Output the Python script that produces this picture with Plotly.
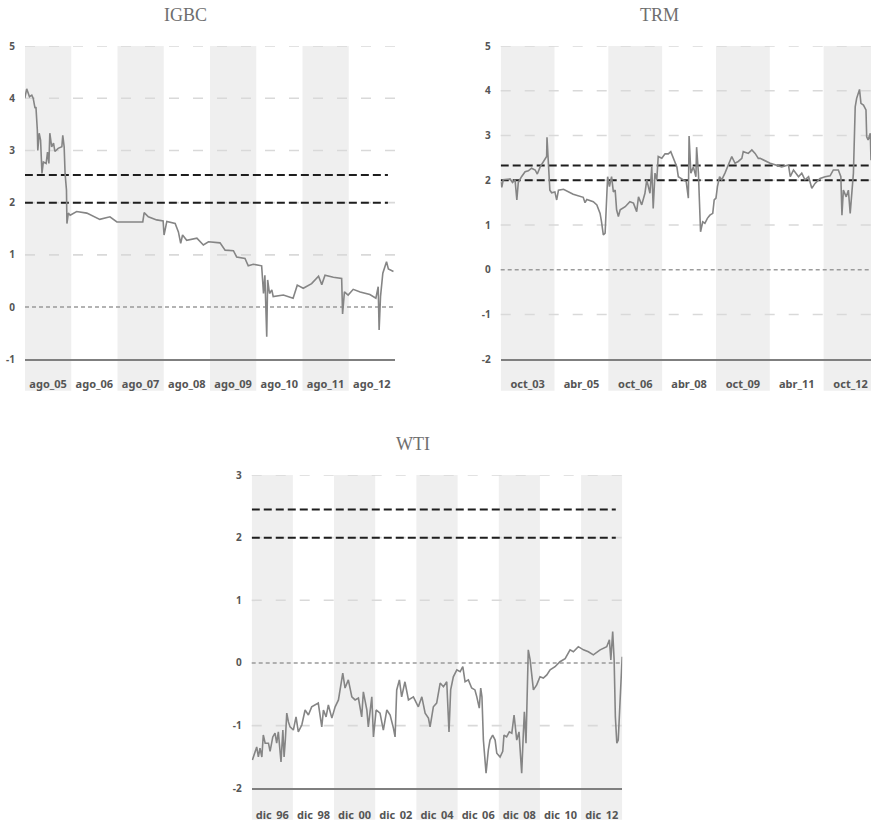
import plotly.graph_objects as go

# ---------------- DATA ----------------
# IGBC (time in decimal years, value)
igbc_t = [2005.58, 2005.62, 2005.68, 2005.73, 2005.76, 2005.80, 2005.82, 2005.85, 2005.86, 2005.89,
          2005.92, 2005.95, 2005.98, 2006.04, 2006.07, 2006.10, 2006.12, 2006.16, 2006.20, 2006.23,
          2006.30, 2006.38, 2006.40, 2006.43, 2006.45, 2006.47, 2006.48, 2006.49, 2006.52, 2006.56,
          2006.70, 2006.92, 2007.20, 2007.42, 2007.57, 2007.93, 2008.13, 2008.16, 2008.25, 2008.43,
          2008.57, 2008.59, 2008.65, 2008.83, 2008.90, 2008.95, 2008.99, 2009.08, 2009.30, 2009.44,
          2009.55, 2009.80, 2009.91, 2010.09, 2010.16, 2010.34, 2010.41, 2010.52, 2010.70, 2010.74,
          2010.77, 2010.81, 2010.83, 2010.87, 2010.92, 2010.95, 2011.17, 2011.38, 2011.47, 2011.60,
          2011.78, 2011.93, 2012.00, 2012.07, 2012.25, 2012.43, 2012.45, 2012.49, 2012.57, 2012.68,
          2012.83, 2013.04, 2013.17, 2013.22, 2013.24, 2013.27, 2013.32, 2013.40, 2013.44, 2013.55]
igbc_v = [4.00, 4.18, 4.03, 4.06, 4.00, 3.81, 3.83, 3.39, 3.00, 3.33,
          3.20, 2.56, 2.78, 2.75, 2.97, 2.75, 3.33, 3.07, 3.14, 2.98,
          3.04, 3.07, 3.29, 3.07, 2.56, 2.40, 2.24, 1.60, 1.80, 1.76,
          1.83, 1.80, 1.68, 1.73, 1.63, 1.63, 1.63, 1.81, 1.73, 1.67,
          1.65, 1.38, 1.64, 1.60, 1.44, 1.22, 1.38, 1.28, 1.32, 1.19,
          1.25, 1.23, 1.09, 1.08, 0.96, 0.93, 0.79, 0.82, 0.79, 0.26,
          0.61, -0.57, 0.52, 0.26, 0.33, 0.20, 0.23, 0.17, 0.42, 0.36,
          0.45, 0.59, 0.43, 0.61, 0.57, 0.55, -0.13, 0.29, 0.23, 0.34,
          0.29, 0.24, 0.17, 0.39, -0.44, 0.20, 0.65, 0.87, 0.73, 0.68]
igbc_thresholds = [2.53, 2.0]
igbc_thr_t = [2005.58, 2013.43]
igbc_labels = ["ago_05", "ago_06", "ago_07", "ago_08", "ago_09", "ago_10", "ago_11", "ago_12"]
igbc_start = 2005 + 7 / 12      # agosto 2005
igbc_step = 1.0                 # years per category
igbc_yticks = [-1, 0, 1, 2, 3, 4, 5]

# TRM
trm_t = [2003.75, 2003.78, 2003.82, 2004.01, 2004.08, 2004.15, 2004.20, 2004.24, 2004.33, 2004.43,
         2004.52, 2004.61, 2004.71, 2004.77, 2004.85, 2004.94, 2004.99, 2005.03, 2005.04, 2005.08,
         2005.12, 2005.17, 2005.26, 2005.31, 2005.36, 2005.50, 2005.68, 2005.77, 2006.05, 2006.10,
         2006.15, 2006.33, 2006.43, 2006.52, 2006.56, 2006.61, 2006.66, 2006.70, 2006.73, 2006.78,
         2006.84, 2006.89, 2006.94, 2006.98, 2007.03, 2007.08, 2007.22, 2007.35, 2007.45, 2007.54,
         2007.59, 2007.68, 2007.77, 2007.82, 2007.91, 2007.96, 2008.00, 2008.05, 2008.10, 2008.14,
         2008.24, 2008.33, 2008.42, 2008.49, 2008.56, 2008.66, 2008.70, 2008.84, 2008.92, 2008.98,
         2009.00, 2009.05, 2009.12, 2009.19, 2009.21, 2009.26, 2009.29, 2009.32, 2009.38, 2009.44,
         2009.51, 2009.58, 2009.66, 2009.70, 2009.75, 2009.79, 2009.85, 2009.91, 2010.00, 2010.10,
         2010.19, 2010.28, 2010.37, 2010.47, 2010.51, 2010.65, 2010.75, 2010.84, 2010.93, 2010.98,
         2011.26, 2011.58, 2011.77, 2011.82, 2011.91, 2012.05, 2012.14, 2012.23, 2012.33, 2012.42,
         2012.51, 2012.65, 2012.79, 2012.93, 2013.02, 2013.16, 2013.23, 2013.26, 2013.30, 2013.38,
         2013.44, 2013.49, 2013.54, 2013.58, 2013.63, 2013.67, 2013.75, 2013.79, 2013.86, 2013.93,
         2013.95, 2013.99, 2014.05, 2014.07]
trm_v = [1.97, 1.84, 2.01, 2.03, 1.95, 2.01, 1.56, 1.95, 2.08, 2.19,
         2.21, 2.27, 2.23, 2.14, 2.30, 2.42, 2.49, 2.53, 2.96, 2.23,
         1.78, 1.72, 1.74, 1.56, 1.78, 1.80, 1.72, 1.69, 1.62, 1.50,
         1.57, 1.52, 1.45, 1.26, 1.07, 0.78, 0.82, 1.56, 2.08, 1.86,
         2.08, 1.74, 1.78, 1.34, 1.19, 1.34, 1.41, 1.52, 1.49, 1.30,
         1.63, 1.45, 1.71, 2.01, 1.71, 2.30, 1.37, 2.16, 2.01, 2.53,
         2.49, 2.59, 2.59, 2.64, 2.49, 2.30, 2.08, 2.01, 1.97, 1.60,
         2.99, 2.16, 2.30, 2.08, 2.74, 2.16, 1.34, 0.85, 1.07, 1.04,
         1.15, 1.22, 1.26, 1.56, 1.60, 1.86, 2.08, 2.01, 2.16, 2.38,
         2.53, 2.38, 2.42, 2.49, 2.64, 2.60, 2.68, 2.60, 2.49, 2.49,
         2.38, 2.30, 2.34, 2.08, 2.23, 2.08, 2.16, 2.01, 2.08, 1.82,
         1.93, 2.04, 2.08, 2.10, 2.23, 2.23, 2.08, 1.22, 1.78, 1.63,
         1.78, 1.26, 1.89, 2.16, 3.64, 3.83, 4.03, 3.72, 3.68, 3.57,
         2.97, 2.90, 3.05, 2.45]
trm_thresholds = [2.33, 2.0]
trm_thr_t = [2003.75, 2014.07]
trm_labels = ["oct_03", "abr_05", "oct_06", "abr_08", "oct_09", "abr_11", "oct_12"]
trm_start = 2003 + 9 / 12       # octubre 2003
trm_step = 1.5
trm_end = 2014.07               # visible end of the panel
trm_yticks = [-2, -1, 0, 1, 2, 3, 4, 5]

# WTI
wti_t = [1996.95, 1997.08, 1997.16, 1997.24, 1997.32, 1997.41, 1997.48, 1997.57, 1997.73, 1997.81,
         1997.94, 1998.05, 1998.13, 1998.21, 1998.29, 1998.34, 1998.43, 1998.49, 1998.55, 1998.62,
         1998.70, 1998.78, 1998.94, 1999.07, 1999.18, 1999.35, 1999.51, 1999.67, 1999.83, 1999.99,
         2000.15, 2000.32, 2000.40, 2000.53, 2000.64, 2000.81, 2000.97, 2001.13, 2001.24, 2001.34,
         2001.45, 2001.61, 2001.78, 2001.94, 2002.10, 2002.26, 2002.34, 2002.51, 2002.58, 2002.75,
         2002.83, 2002.96, 2003.15, 2003.31, 2003.48, 2003.64, 2003.80, 2003.88, 2003.96, 2004.09,
         2004.20, 2004.36, 2004.53, 2004.77, 2005.01, 2005.18, 2005.34, 2005.50, 2005.58, 2005.74,
         2005.90, 2006.07, 2006.23, 2006.39, 2006.50, 2006.58, 2006.71, 2006.88, 2007.04, 2007.17,
         2007.28, 2007.44, 2007.60, 2007.76, 2007.85, 2007.97, 2008.04, 2008.10, 2008.17, 2008.25,
         2008.30, 2008.41, 2008.49, 2008.62, 2008.74, 2008.82, 2008.98, 2009.11, 2009.17, 2009.30,
         2009.43, 2009.55, 2009.66, 2009.79, 2009.90, 2009.95, 2010.03, 2010.11, 2010.16, 2010.24,
         2010.30, 2010.35, 2010.44, 2010.52, 2010.60, 2010.76, 2010.92, 2011.08, 2011.25, 2011.41,
         2011.65, 2011.89, 2012.14, 2012.38, 2012.54, 2012.78, 2013.03, 2013.27, 2013.51, 2013.84,
         2014.16, 2014.29, 2014.36, 2014.45, 2014.52, 2014.58, 2014.65, 2014.72, 2014.81, 2014.89,
         2014.91]
wti_v = [-1.55, -1.44, -1.34, -1.50, -1.36, -1.50, -1.15, -1.28, -1.28, -1.41,
         -1.18, -1.12, -1.28, -1.10, -1.41, -1.58, -1.07, -1.50, -1.23, -0.80,
         -0.94, -1.02, -1.07, -0.86, -1.10, -0.99, -0.75, -0.83, -0.70, -0.67,
         -0.64, -1.02, -0.75, -0.86, -0.67, -0.88, -0.70, -0.59, -0.38, -0.16,
         -0.40, -0.27, -0.54, -0.59, -0.56, -0.86, -0.46, -0.75, -1.02, -0.54,
         -1.18, -0.75, -0.80, -1.07, -0.75, -0.83, -1.04, -1.18, -0.43, -0.27,
         -0.54, -0.30, -0.59, -0.54, -0.70, -0.54, -0.80, -0.88, -1.02, -0.70,
         -0.64, -0.32, -0.38, -0.30, -1.10, -0.43, -0.22, -0.11, -0.14, -0.06,
         -0.30, -0.27, -0.40, -0.43, -0.54, -0.72, -0.40, -0.54, -1.23, -1.55,
         -1.76, -1.39, -1.23, -1.15, -1.23, -1.44, -1.50, -1.41, -1.15, -1.18,
         -1.10, -1.12, -0.83, -1.23, -1.10, -1.36, -1.76, -1.12, -0.78, -1.28,
         -0.27, 0.21, 0.05, -0.22, -0.43, -0.35, -0.22, -0.24, -0.19, -0.11,
         -0.06, 0.02, 0.07, 0.21, 0.18, 0.26, 0.21, 0.18, 0.13, 0.21,
         0.26, 0.37, 0.05, 0.50, 0.05, -0.86, -1.28, -1.23, -0.59, -0.16,
         0.10]
wti_thresholds = [2.45, 2.0]
wti_thr_t = [1996.92, 2014.60]
wti_labels = ["dic_96", "dic_98", "dic_00", "dic_02", "dic_04", "dic_06", "dic_08", "dic_10", "dic_12"]
wti_start = 1996 + 11 / 12      # diciembre 1996
wti_step = 2.0
wti_yticks = [-2, -1, 0, 1, 2, 3]

# ---------------- STYLE ----------------
W, H = 871, 820
LINE_COL = "#858585"
BAND_COL = "#efefef"
GRID_COL = "#d9d9d9"
ZERO_COL = "#9b9b9b"
THR_COL = "#1e1e1e"
AXIS_COL = "#7f7f7f"
TICK_FONT = dict(family="Noto Sans", size=10, color="#555555", weight=700)
XTICK_FONT = dict(family="Noto Sans", size=11, color="#555555", weight=700)
TITLE_FONT = dict(family="Liberation Serif", size=18, color="#6e6e6e")

panels = [
    dict(name="IGBC", t=igbc_t, v=igbc_v, thr=igbc_thresholds, thr_t=igbc_thr_t,
         labels=igbc_labels, start=igbc_start, step=igbc_step, end=None, yticks=igbc_yticks,
         px_x=(25, 395), px_y=(46, 359.3), title_xy=(185, 15), xstand=13),
    dict(name="TRM", t=trm_t, v=trm_v, thr=trm_thresholds, thr_t=trm_thr_t,
         labels=trm_labels, start=trm_start, step=trm_step, end=trm_end, yticks=trm_yticks,
         px_x=(500.7, 871), px_y=(46, 359.3), title_xy=(659, 15), xstand=13),
    dict(name="WTI", t=wti_t, v=wti_v, thr=wti_thresholds, thr_t=wti_thr_t,
         labels=wti_labels, start=wti_start, step=wti_step, end=None, yticks=wti_yticks,
         px_x=(251.7, 622.3), px_y=(475, 788.3), title_xy=(412.7, 443.5), xstand=15),
]

fig = go.Figure()
shapes = []
annotations = []
layout = {}

for i, p in enumerate(panels):
    k = "" if i == 0 else str(i + 1)
    xa, ya = "x" + k, "y" + k
    n = len(p["labels"])
    x0 = p["start"]
    x1 = p["end"] if p["end"] is not None else p["start"] + n * p["step"]
    ymin, ymax = min(p["yticks"]), max(p["yticks"])

    # alternating background bands (one per category)
    for j in range(0, n, 2):
        shapes.append(dict(type="rect", xref=xa, yref=ya + " domain",
                           x0=p["start"] + j * p["step"], x1=p["start"] + (j + 1) * p["step"],
                           y0=-0.1, y1=1, fillcolor=BAND_COL, line_width=0, layer="below"))
    # dashed gridlines
    for yv in p["yticks"]:
        if yv in (0, ymin):
            continue
        shapes.append(dict(type="line", xref=xa + " domain", yref=ya, x0=0, x1=1, y0=yv, y1=yv,
                           line=dict(color=GRID_COL, width=1.6, dash="10px,14px"), layer="below"))
    # zero line
    shapes.append(dict(type="line", xref=xa + " domain", yref=ya, x0=0, x1=1, y0=0, y1=0,
                       line=dict(color=ZERO_COL, width=1.5, dash="4px,3px"), layer="below"))

    # threshold lines
    for thr in p["thr"]:
        fig.add_trace(go.Scatter(x=p["thr_t"], y=[thr, thr], mode="lines", xaxis=xa, yaxis=ya,
                                 line=dict(color=THR_COL, width=2, dash="8px,4px"),
                                 showlegend=False, hoverinfo="skip"))
    # series
    fig.add_trace(go.Scatter(x=p["t"], y=p["v"], mode="lines", xaxis=xa, yaxis=ya,
                             line=dict(color=LINE_COL, width=1.6), showlegend=False,
                             name=p["name"]))

    dx = (p["px_x"][0] / W, min(1.0, p["px_x"][1] / W))
    dy = (1 - p["px_y"][1] / H, 1 - p["px_y"][0] / H)
    centers = [p["start"] + (j + 0.5) * p["step"] for j in range(n)]
    layout["xaxis" + k] = dict(domain=dx, range=[x0, x1], anchor=ya, showgrid=False,
                               zeroline=False, showline=True, linecolor=AXIS_COL, linewidth=2,
                               tickvals=centers, ticktext=p["labels"], ticks="outside",
                               ticklen=p["xstand"], tickcolor="rgba(0,0,0,0)",
                               tickfont=XTICK_FONT, fixedrange=True, automargin=False)
    layout["yaxis" + k] = dict(domain=dy, range=[ymin, ymax], anchor=xa, showgrid=False,
                               zeroline=False, showline=False,
                               tickvals=p["yticks"], ticktext=[str(t) for t in p["yticks"]],
                               ticks="outside", ticklen=7, tickcolor="rgba(0,0,0,0)",
                               tickfont=TICK_FONT, fixedrange=True, automargin=False)
    annotations.append(dict(text=p["name"], xref="paper", yref="paper",
                            x=p["title_xy"][0] / W, y=1 - p["title_xy"][1] / H,
                            xanchor="center", yanchor="middle", showarrow=False, font=TITLE_FONT))

fig.update_layout(width=W, height=H, margin=dict(l=0, r=0, t=0, b=0, pad=0),
                  paper_bgcolor="white", plot_bgcolor="white",
                  shapes=shapes, annotations=annotations, showlegend=False, **layout)

fig.write_html("out.html", config={"displayModeBar": False},
               post_script="document.body.style.margin='0';document.body.style.overflow='hidden';")
